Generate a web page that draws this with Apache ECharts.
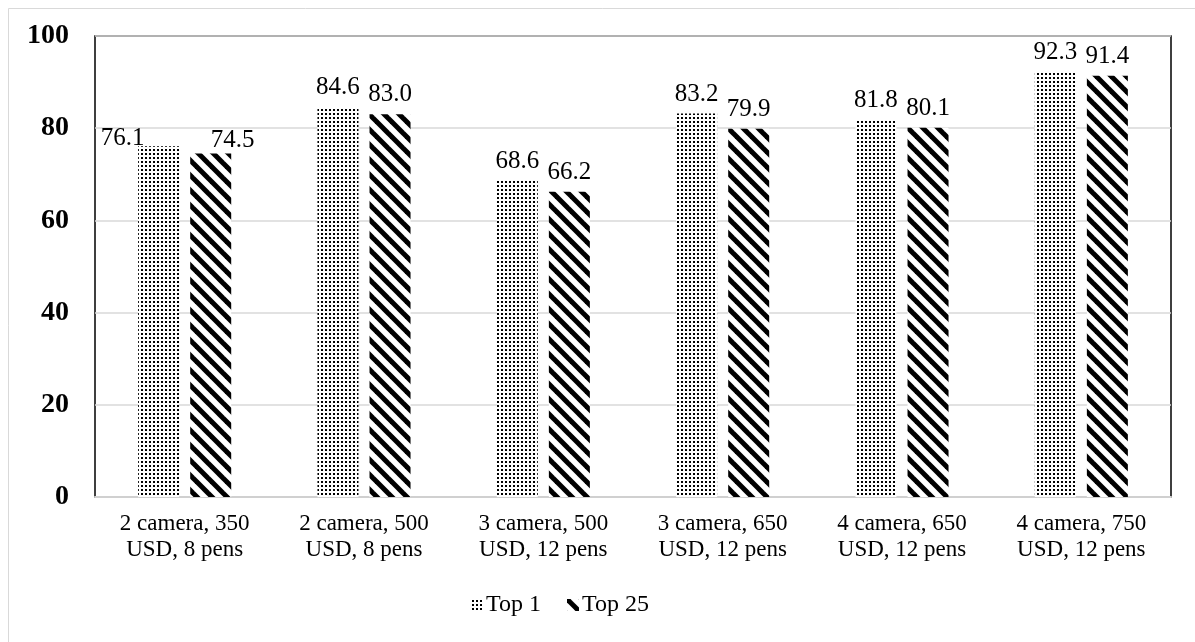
<!DOCTYPE html>
<html>
<head>
<meta charset="utf-8">
<script src="https://cdn.jsdelivr.net/npm/echarts@6/dist/echarts.min.js"></script>
<style>
  html, body { margin: 0; padding: 0; background: #fff; }
  #chart { width: 1195px; height: 642px; }
</style>
</head>
<body>
<div id="chart"></div>
<script>
// Configurations compared
const categories = [
  '2 camera, 350\nUSD, 8 pens',
  '2 camera, 500\nUSD, 8 pens',
  '3 camera, 500\nUSD, 12 pens',
  '3 camera, 650\nUSD, 12 pens',
  '4 camera, 650\nUSD, 12 pens',
  '4 camera, 750\nUSD, 12 pens'
];
const top1 = [76.1, 84.6, 68.6, 83.2, 81.8, 92.3];
const top25 = [74.5, 83.0, 66.2, 79.9, 80.1, 91.4];
const yTicks = [0, 20, 40, 60, 80, 100];

const FONT = '"Liberation Serif", "Times New Roman", serif';

// Fine dot fill for the "Top 1" bars
function dotPattern() {
  const c = document.createElement('canvas');
  c.width = 4; c.height = 4;
  const g = c.getContext('2d');
  g.fillStyle = '#fff';
  g.fillRect(0, 0, 4, 4);
  g.fillStyle = '#000';
  g.fillRect(1, 1, 2, 2);
  return c;
}

// Heavy diagonal hatch (top-left to bottom-right) for the "Top 25" bars
function stripePattern() {
  const s = 15;
  const c = document.createElement('canvas');
  c.width = s; c.height = s;
  const g = c.getContext('2d');
  g.fillStyle = '#fff';
  g.fillRect(0, 0, s, s);
  g.strokeStyle = '#000';
  g.lineWidth = 5;
  g.lineCap = 'butt';
  for (let k = -1; k <= 1; k++) {
    g.beginPath();
    g.moveTo(k * s - 2, -2);
    g.lineTo(k * s + s + 2, s + 2);
    g.stroke();
  }
  return c;
}

const dots = { image: dotPattern(), repeat: 'repeat' };
const stripes = { image: stripePattern(), repeat: 'repeat' };

const labelBase = {
  show: true,
  position: 'top',
  distance: 7,
  fontFamily: FONT,
  fontSize: 25,
  color: '#000',
  formatter: p => p.value.toFixed(1)
};

// First group's labels sit beside the bars rather than above them
const top1Data = top1.map((v, i) => i === 0
  ? { value: v, label: { offset: [-36, 12] } }
  : v);
const top25Data = top25.map((v, i) => i === 0
  ? { value: v, label: { offset: [22, 6] } }
  : v);

const chart = echarts.init(document.getElementById('chart'), null, { renderer: 'canvas' });

chart.setOption({
  backgroundColor: '#fff',
  animation: false,
  graphic: [{
    type: 'rect',
    shape: { x: 8.5, y: 8.5, width: 1200, height: 650 },
    style: { fill: 'none', stroke: '#d9d9d9', lineWidth: 1 },
    silent: true,
    z: -10
  }],
  grid: {
    left: 95, right: 24, top: 36, bottom: 145,
    show: true,
    borderColor: '#000',
    borderWidth: 1.5,
    backgroundColor: 'transparent'
  },
  legend: {
    bottom: 20,
    left: 466,
    itemWidth: 12,
    itemHeight: 12,
    itemGap: 26,
    icon: 'rect',
    textStyle: { fontFamily: FONT, fontSize: 24, color: '#000', padding: [0, 0, 0, -2] },
    data: ['Top 1', 'Top 25']
  },
  xAxis: {
    type: 'category',
    data: categories,
    axisLine: { show: true, lineStyle: { color: '#d0d0d0', width: 2 } },
    axisTick: { show: false },
    axisLabel: {
      fontFamily: FONT, fontSize: 23, color: '#000',
      lineHeight: 26, margin: 14, interval: 0
    }
  },
  yAxis: {
    type: 'value',
    min: yTicks[0],
    max: yTicks[yTicks.length - 1],
    interval: yTicks[1] - yTicks[0],
    axisLine: { show: false },
    axisTick: { show: false },
    splitLine: { lineStyle: { color: '#d9d9d9', width: 1.5 } },
    axisLabel: {
      fontFamily: FONT, fontSize: 28, fontWeight: 'bold', color: '#000', margin: 26
    }
  },
  series: [
    {
      name: 'Top 1',
      type: 'bar',
      data: top1Data,
      barWidth: 41,
      barGap: '27%',
      itemStyle: { color: dots },
      label: labelBase
    },
    {
      name: 'Top 25',
      type: 'bar',
      data: top25Data,
      barWidth: 41,
      barGap: '27%',
      itemStyle: { color: stripes },
      label: labelBase
    }
  ]
});
</script>
</body>
</html>
